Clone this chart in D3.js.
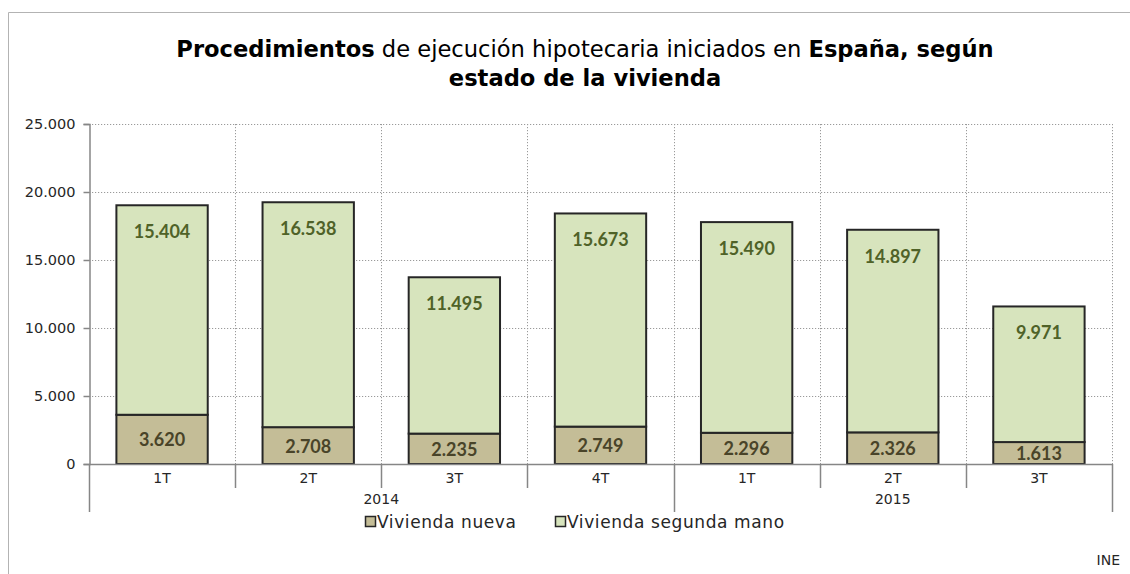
<!DOCTYPE html>
<html>
<head>
<meta charset="utf-8">
<script src="https://cdn.jsdelivr.net/npm/d3@7"></script>
<style>
  body { margin: 0; background: #fff; }
  svg text { font-family: "DejaVu Sans", sans-serif; }
  svg text.val { font-family: "Lato", "Open Sans", sans-serif; }
</style>
</head>
<body>
<div id="chart"></div>
<script>
const quarters = ["1T", "2T", "3T", "4T", "1T", "2T", "3T"];
const years = ["2014", "2014", "2014", "2014", "2015", "2015", "2015"];
const nueva = [3620, 2708, 2235, 2749, 2296, 2326, 1613];
const segundaMano = [15404, 16538, 11495, 15673, 15490, 14897, 9971];
const yTicks = [0, 5000, 10000, 15000, 20000, 25000];
const seriesNames = ["Vivienda nueva", "Vivienda segunda mano"];
const colors = ["#c4bd97", "#d7e4bd"];
const labelColors = ["#494429", "#4f6228"];

const W = 1130, H = 574;
const plot = {left: 89, right: 1112, top: 124, bottom: 464};

const fmt = d3.formatLocale({decimal: ",", thousands: ".", grouping: [3], currency: ["", "€"]}).format(",d");

const svg = d3.select("#chart").append("svg")
  .attr("width", W)
  .attr("height", H);

// chart frame
svg.append("path")
  .attr("d", "M8.5," + H + "V12.5H" + W)
  .attr("fill", "none")
  .attr("stroke", "#b3b3b3")
  .attr("stroke-width", 1);

// title
const title = svg.append("text")
  .attr("x", 585)
  .attr("y", 57)
  .attr("text-anchor", "middle")
  .style("font-size", "22.6px")
  .style("fill", "#000");
title.append("tspan").style("font-weight", "bold").text("Procedimientos");
title.append("tspan").text(" de ejecución hipotecaria iniciados en ");
title.append("tspan").style("font-weight", "bold").text("España, según");
svg.append("text")
  .attr("x", 585)
  .attr("y", 86)
  .attr("text-anchor", "middle")
  .style("font-size", "22.6px")
  .style("font-weight", "bold")
  .text("estado de la vivienda");

const idx = d3.range(quarters.length);

const x = d3.scaleBand()
  .domain(idx)
  .range([plot.left, plot.right])
  .paddingInner(0.375)
  .paddingOuter(0.1875);

const y = d3.scaleLinear()
  .domain([0, 25000])
  .range([plot.bottom, plot.top]);

const step = x.step();
const bounds = d3.range(quarters.length + 1).map(i => plot.left + i * step);

// horizontal gridlines
svg.append("g")
  .selectAll("line")
  .data(yTicks.filter(d => d > 0))
  .join("line")
  .attr("x1", plot.left)
  .attr("x2", plot.right)
  .attr("y1", d => Math.round(y(d)) + 0.5)
  .attr("y2", d => Math.round(y(d)) + 0.5)
  .attr("stroke", "#9a9a9a")
  .attr("stroke-dasharray", "1.2,1.8");

// vertical gridlines
svg.append("g")
  .selectAll("line")
  .data(bounds.slice(1))
  .join("line")
  .attr("x1", d => Math.round(d) + 0.5)
  .attr("x2", d => Math.round(d) + 0.5)
  .attr("y1", plot.top)
  .attr("y2", plot.bottom)
  .attr("stroke", "#9a9a9a")
  .attr("stroke-dasharray", "1.2,1.8");

// y axis
const yAxis = d3.axisLeft(y)
  .tickValues(yTicks)
  .tickSize(6)
  .tickPadding(8)
  .tickFormat(fmt);
const gy = svg.append("g")
  .attr("transform", "translate(" + (plot.left + 0.5) + ",0)")
  .call(yAxis);
gy.select(".domain").attr("stroke", "#868686").attr("stroke-width", 1.5);
gy.selectAll(".tick line").attr("stroke", "#868686").attr("stroke-width", 1.5);
gy.selectAll(".tick text")
  .style("font-size", "14.5px")
  .style("fill", "#262626");

// stacked bars
const rows = idx.map(i => ({i: i, values: [nueva[i], segundaMano[i]]}));
const stack = d3.stack().keys([0, 1]).value((d, k) => d.values[k]);
const layers = stack(rows);

const layerG = svg.append("g")
  .selectAll("g")
  .data(layers)
  .join("g")
  .attr("fill", (d, k) => colors[k]);

layerG.selectAll("rect")
  .data(d => d)
  .join("rect")
  .attr("x", d => x(d.data.i))
  .attr("width", x.bandwidth())
  .attr("y", d => y(d[1]))
  .attr("height", d => y(d[0]) - y(d[1]))
  .attr("stroke", "#262626")
  .attr("stroke-width", 2);

// value labels
layerG.selectAll("text")
  .data((d, k) => d.map(p => ({p: p, k: k})))
  .join("text")
  .attr("class", "val")
  .attr("x", d => x(d.p.data.i) + x.bandwidth() / 2)
  .attr("y", d => d.k === 0
    ? Math.min((y(d.p[0]) + y(d.p[1])) / 2 + 7, plot.bottom - 2)
    : y(d.p[1]) + 33)
  .attr("text-anchor", "middle")
  .style("font-size", "18px")
  .style("font-weight", "bold")
  .style("fill", d => labelColors[d.k])
  .text(d => fmt(d.p.data.values[d.k]));

// x axis: quarter level
const xAxisG = svg.append("g");
xAxisG.append("line")
  .attr("x1", plot.left)
  .attr("x2", plot.right + 1)
  .attr("y1", plot.bottom + 0.5)
  .attr("y2", plot.bottom + 0.5)
  .attr("stroke", "#868686")
  .attr("stroke-width", 1.5);

const yearBreaks = [0].concat(idx.filter(i => i > 0 && years[i] !== years[i - 1]), [quarters.length]);

xAxisG.selectAll("line.qtick")
  .data(bounds)
  .join("line")
  .attr("class", "qtick")
  .attr("x1", d => Math.round(d) + 0.5)
  .attr("x2", d => Math.round(d) + 0.5)
  .attr("y1", plot.bottom)
  .attr("y2", (d, i) => yearBreaks.includes(i) ? 512 : 488)
  .attr("stroke", "#868686")
  .attr("stroke-width", 1.5);

xAxisG.selectAll("text.q")
  .data(idx)
  .join("text")
  .attr("class", "q")
  .attr("x", i => x(i) + x.bandwidth() / 2)
  .attr("y", 483)
  .attr("text-anchor", "middle")
  .style("font-size", "14px")
  .style("fill", "#262626")
  .text(i => quarters[i]);

const yearGroups = d3.range(yearBreaks.length - 1).map(j => ({
  label: years[yearBreaks[j]],
  x0: bounds[yearBreaks[j]],
  x1: bounds[yearBreaks[j + 1]]
}));

xAxisG.selectAll("text.yr")
  .data(yearGroups)
  .join("text")
  .attr("class", "yr")
  .attr("x", d => (d.x0 + d.x1) / 2)
  .attr("y", 504)
  .attr("text-anchor", "middle")
  .style("font-size", "14px")
  .style("fill", "#262626")
  .text(d => d.label);

// legend
const legendItems = [{x: 365}, {x: 555}];
const legend = svg.append("g")
  .selectAll("g")
  .data(seriesNames)
  .join("g")
  .attr("transform", (d, k) => "translate(" + legendItems[k].x + ",522)");
legend.append("rect")
  .attr("x", 0.5)
  .attr("y", -5.5)
  .attr("width", 10)
  .attr("height", 10)
  .attr("fill", (d, k) => colors[k])
  .attr("stroke", "#262626")
  .attr("stroke-width", 1.5);
legend.append("text")
  .attr("x", 12)
  .attr("y", 6)
  .style("font-size", "17px")
  .style("letter-spacing", "0.6px")
  .style("fill", "#262626")
  .text(d => d);

// source
svg.append("text")
  .attr("x", 1120)
  .attr("y", 565)
  .attr("text-anchor", "end")
  .style("font-size", "14px")
  .style("fill", "#262626")
  .text("INE");
</script>
</body>
</html>
